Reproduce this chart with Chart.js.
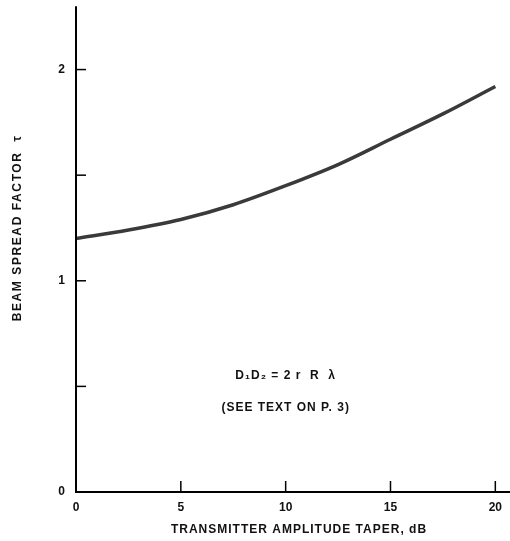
<!DOCTYPE html>
<html>
<head>
<meta charset="utf-8">
<script src="https://cdn.jsdelivr.net/npm/chart.js@4/dist/chart.umd.min.js"></script>
<style>
  html, body { margin: 0; padding: 0; background: #fff; }
  #wrap { width: 510px; height: 541px; position: relative; overflow: hidden; }
  #inner { position: absolute; left: 0; top: -12px; width: 510px; height: 553px; }
</style>
</head>
<body>
<div id="wrap"><div id="inner"><canvas id="chart"></canvas></div></div>
<script>
// taper in dB vs beam spread factor
var taperDb = [0, 2.5, 5, 7.5, 10, 12.5, 15, 17.5, 20];
var spreadFactor = [1.20, 1.24, 1.29, 1.36, 1.45, 1.55, 1.67, 1.79, 1.92];
var xTicks = [0, 5, 10, 15, 20];
var yTicks = [0, 0.5, 1, 1.5, 2];
var yLabels = { 0: '0', 1: '1', 2: '2' };
var note1 = 'D\u2081D\u2082 = 2 r  R  \u03bb';
var note2 = '(SEE TEXT ON P. 3)';
var yTitle = 'BEAM SPREAD FACTOR  \u03c4';
var xTitle = 'TRANSMITTER AMPLITUDE TAPER, dB';

var extras = {
    id: 'extras',
    afterDraw: function (chart) {
        var ctx = chart.ctx, xs = chart.scales.x, ys = chart.scales.y;
        var x0 = xs.getPixelForValue(0), y0 = ys.getPixelForValue(0);
        ctx.save();
        ctx.strokeStyle = '#000';
        ctx.lineWidth = 2;
        // axes
        ctx.beginPath();
        ctx.moveTo(x0, chart.chartArea.top);
        ctx.lineTo(x0, y0);
        ctx.lineTo(chart.chartArea.right, y0);
        ctx.stroke();
        // inward ticks
        ctx.lineWidth = 1.5;
        yTicks.forEach(function (v) {
            var p = ys.getPixelForValue(v);
            ctx.beginPath(); ctx.moveTo(x0, p); ctx.lineTo(x0 + 10, p); ctx.stroke();
        });
        xTicks.forEach(function (v) {
            var p = xs.getPixelForValue(v);
            ctx.beginPath(); ctx.moveTo(p, y0); ctx.lineTo(p, y0 - 11); ctx.stroke();
        });
        // notes
        ctx.fillStyle = '#111';
        ctx.font = 'bold 12px "Liberation Sans", Arial, sans-serif';
        ctx.letterSpacing = '1px';
        ctx.textAlign = 'center';
        ctx.textBaseline = 'middle';
        ctx.fillText(note1, xs.getPixelForValue(10), ys.getPixelForValue(0.55));
        ctx.fillText(note2, xs.getPixelForValue(10), ys.getPixelForValue(0.40));
        // titles (canvas is shifted up 12px)
        ctx.fillText(xTitle, 299, 542);
        ctx.letterSpacing = '1.6px';
        ctx.translate(18, 240);
        ctx.rotate(-Math.PI / 2);
        ctx.fillText(yTitle, 0, 0);
        ctx.restore();
    }
};

new Chart(document.getElementById('chart'), {
    type: 'line',
    data: {
        datasets: [{
            data: taperDb.map(function (x, i) { return { x: x, y: spreadFactor[i] }; }),
            borderColor: '#3a3a3a',
            borderWidth: 3.5,
            pointRadius: 0,
            cubicInterpolationMode: 'monotone',
            fill: false
        }]
    },
    options: {
        responsive: true,
        maintainAspectRatio: false,
        animation: false,
        layout: { padding: { top: 4, right: 0, left: 0, bottom: 0 } },
        plugins: { legend: { display: false }, tooltip: { enabled: false } },
        scales: {
            x: {
                type: 'linear',
                min: 0, max: 20.7,
                afterFit: function (s) { s.height = 49; },
                afterBuildTicks: function (s) { s.ticks = xTicks.map(function (v) { return { value: v }; }); },
                grid: { display: false, drawTicks: false },
                border: { display: false },
                ticks: { color: '#111', font: { family: '"Liberation Sans", Arial', size: 12, weight: 'bold' }, padding: 8, maxRotation: 0 }
            },
            y: {
                min: 0, max: 2.3,
                afterFit: function (s) { s.width = 76; },
                afterBuildTicks: function (s) { s.ticks = yTicks.map(function (v) { return { value: v }; }); },
                grid: { display: false, drawTicks: false },
                border: { display: false },
                ticks: {
                    color: '#111',
                    font: { family: '"Liberation Sans", Arial', size: 12, weight: 'bold' },
                    padding: 11,
                    callback: function (v) { return yLabels[v] || ''; }
                }
            }
        }
    },
    plugins: [extras]
});
</script>
</body>
</html>
